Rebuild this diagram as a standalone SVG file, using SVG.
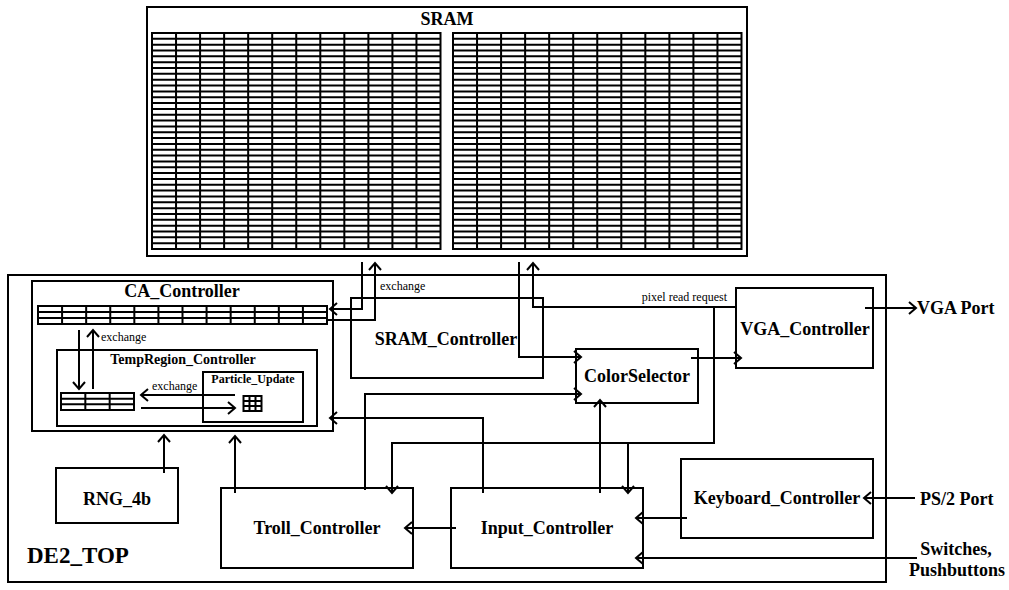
<svg xmlns="http://www.w3.org/2000/svg" width="1009" height="590" viewBox="0 0 1009 590">
<defs>
<style>
.box{fill:none;stroke:#000;stroke-width:2}
.grid{fill:none;stroke:#000;stroke-width:2}
.wire{fill:none;stroke:#000;stroke-width:2}
.arr{marker-end:url(#ah)}
.t{font-family:"Liberation Serif","Times New Roman",serif;font-weight:bold;font-size:18px;text-anchor:middle;fill:#000}
.s{font-family:"Liberation Serif","Times New Roman",serif;font-size:12px;fill:#000}
</style>
<marker id="ah" viewBox="0 0 12 16" refX="9" refY="8" markerWidth="12" markerHeight="16" markerUnits="userSpaceOnUse" orient="auto"><path d="M2,2L9,8L2,14" fill="none" stroke="#000" stroke-width="2"/></marker>
<g id="sramgrid" class="grid">
<rect x="0" y="0" width="288.5" height="216"/>
<path d="M24.04,0V216M48.08,0V216M72.13,0V216M96.17,0V216M120.21,0V216M144.25,0V216M168.29,0V216M192.33,0V216M216.38,0V216M240.42,0V216M264.46,0V216"/>
<path d="M0,5.84H288.5M0,11.68H288.5M0,17.51H288.5M0,23.35H288.5M0,29.19H288.5M0,35.03H288.5M0,40.86H288.5M0,46.7H288.5M0,52.54H288.5M0,58.38H288.5M0,64.22H288.5M0,70.05H288.5M0,75.89H288.5M0,81.73H288.5M0,87.57H288.5M0,93.41H288.5M0,99.24H288.5M0,105.08H288.5M0,110.92H288.5M0,116.76H288.5M0,122.59H288.5M0,128.43H288.5M0,134.27H288.5M0,140.11H288.5M0,145.95H288.5M0,151.78H288.5M0,157.62H288.5M0,163.46H288.5M0,169.3H288.5M0,175.14H288.5M0,180.97H288.5M0,186.81H288.5M0,192.65H288.5M0,198.49H288.5M0,204.32H288.5M0,210.16H288.5"/>
</g>
</defs>
<rect width="1009" height="590" fill="#fff"/>

<g id="SRAM">
<rect class="box" x="147" y="7" width="600" height="249"/>
<text class="t" x="447" y="25">SRAM</text>
<use href="#sramgrid" x="152" y="33"/>
<use href="#sramgrid" x="453" y="33"/>
</g>

<g id="DE2_TOP">
<rect class="box" x="8" y="275" width="878" height="307"/>
<text class="t" x="27" y="563" style="font-size:23px;text-anchor:start">DE2_TOP</text>
</g>

<g id="CA_Controller">
<rect class="box" x="32" y="281" width="301" height="150"/>
<text class="t" x="182" y="297">CA_Controller</text>
<g class="grid">
<rect x="38" y="306" width="289" height="18"/>
<path d="M62.08,306V324M86.17,306V324M110.25,306V324M134.33,306V324M158.42,306V324M182.5,306V324M206.58,306V324M230.67,306V324M254.75,306V324M278.83,306V324M302.92,306V324M38,312H327M38,318H327"/>
</g>
</g>

<g id="TempRegion_Controller">
<rect class="box" x="57" y="350" width="260" height="76"/>
<text class="t" x="183" y="364" style="font-size:14px">TempRegion_Controller</text>
<g class="grid">
<rect x="61" y="393" width="73" height="17"/>
<path d="M85.33,393V410M109.67,393V410M61,398.67H134M61,404.33H134"/>
</g>
</g>

<g id="Particle_Update">
<rect class="box" x="203" y="372" width="100" height="50"/>
<text class="t" x="253" y="382.5" style="font-size:12px">Particle_Update</text>
<g class="grid">
<rect x="243.5" y="396" width="18" height="15"/>
<path d="M249.5,396V411M255.5,396V411M243.5,401H261.5M243.5,406H261.5"/>
</g>
</g>

<g id="SRAM_Controller">
<rect class="box" x="351" y="298" width="192" height="80"/>
<text class="t" x="446" y="345">SRAM_Controller</text>
</g>

<g id="VGA_Controller">
<rect class="box" x="736" y="288" width="137" height="80"/>
<text class="t" x="805" y="335">VGA_Controller</text>
</g>

<g id="ColorSelector">
<rect class="box" x="576" y="349" width="122" height="54"/>
<text class="t" x="637" y="381.5">ColorSelector</text>
</g>

<g id="Keyboard_Controller">
<rect class="box" x="681" y="459" width="192" height="79"/>
<text class="t" x="777" y="504">Keyboard_Controller</text>
</g>

<g id="Troll_Controller">
<rect class="box" x="221" y="488" width="192" height="80"/>
<text class="t" x="317" y="534">Troll_Controller</text>
</g>

<g id="Input_Controller">
<rect class="box" x="451" y="488" width="192" height="80"/>
<text class="t" x="547" y="534">Input_Controller</text>
</g>

<g id="RNG_4b">
<rect class="box" x="56" y="468" width="122" height="55"/>
<text class="t" x="117" y="505">RNG_4b</text>
</g>

<g id="VGA_Port"><text class="t" x="917" y="314" style="text-anchor:start">VGA Port</text></g>
<g id="PS2_Port"><text class="t" x="920" y="505" style="text-anchor:start">PS/2 Port</text></g>
<g id="Switches_Pushbuttons">
<text class="t" x="956" y="555">Switches,</text>
<text class="t" x="957" y="576">Pushbuttons</text>
</g>

<g id="connectors">
<path class="wire arr" d="M362,262V309H330"/>
<path class="wire arr" d="M327,320H375V263"/>
<path class="wire arr" d="M519,262V357H581"/>
<path class="wire arr" d="M736,307H533V263"/>
<path class="wire arr" d="M714,307V443H392V493"/>
<path class="wire arr" d="M628,443V493"/>
<path class="wire arr" d="M691,358H741"/>
<path class="wire arr" d="M865,308H916"/>
<path class="wire arr" d="M365,490V394H581"/>
<path class="wire arr" d="M600,493V400"/>
<path class="wire arr" d="M483,493V418H330"/>
<path class="wire arr" d="M235,493V436"/>
<path class="wire arr" d="M164,473V435"/>
<path class="wire arr" d="M456,528H405"/>
<path class="wire arr" d="M687,518H636"/>
<path class="wire arr" d="M915,498H864"/>
<path class="wire arr" d="M917,558H636"/>
<path class="wire arr" d="M79,330V389"/>
<path class="wire arr" d="M93,389V330"/>
<path class="wire arr" d="M235,395H141"/>
<path class="wire arr" d="M141,408H235"/>
<text class="s" x="101" y="341">exchange</text>
<text class="s" x="152" y="390">exchange</text>
<text class="s" x="380" y="290">exchange</text>
<text class="s" x="727" y="301" style="text-anchor:end">pixel read request</text>
</g>
</svg>
